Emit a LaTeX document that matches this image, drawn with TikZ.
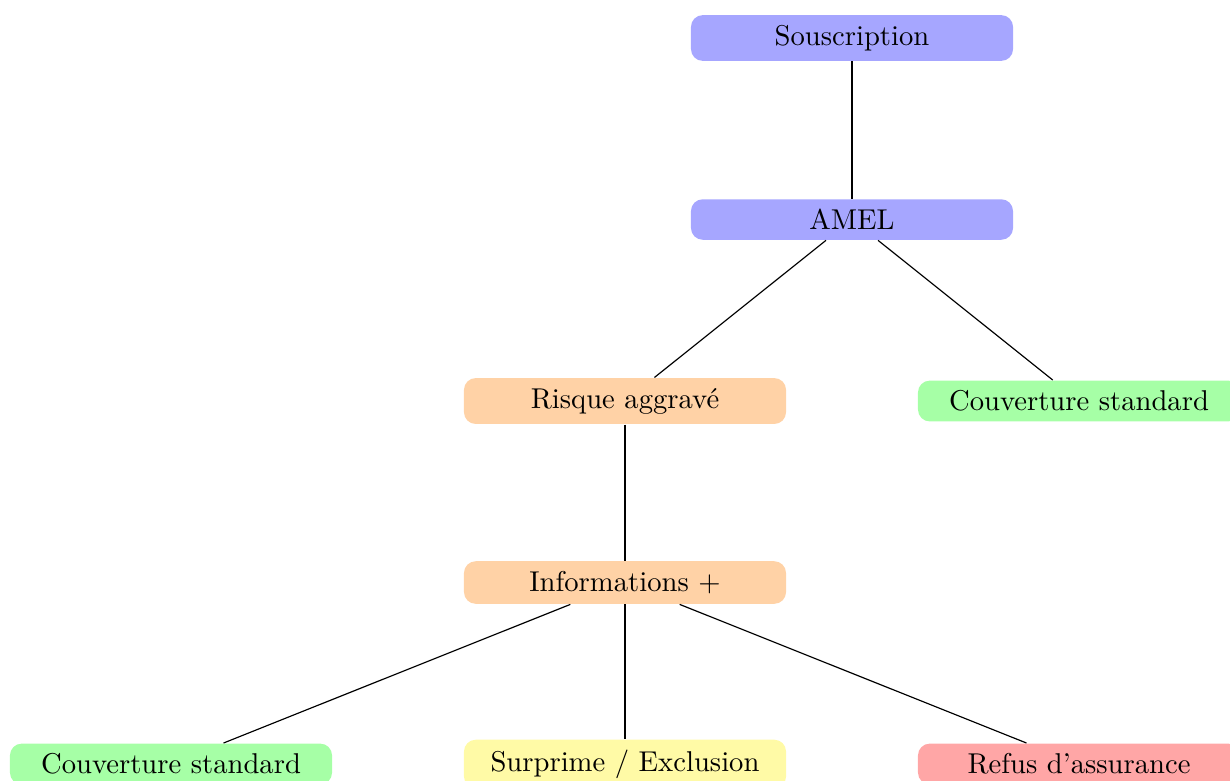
\documentclass[tikz,border=0pt]{standalone}
\usepackage{tikz}
\tikzset{
  box/.style={rounded corners=4pt, minimum width=109.5pt, inner sep=3.4pt, align=center, font=\fontsize{9.74}{12}\selectfont},
  bluebox/.style={box, fill=blue!35},
  orangebox/.style={box, fill=orange!35},
  greenbox/.style={box, fill=green!35},
  yellowbox/.style={box, fill=yellow!35},
  redbox/.style={box, fill=red!35},
  link/.style={draw=black, line width=0.4pt}
}
\begin{document}
\begin{tikzpicture}[x=0.34pt,y=-0.34pt]
\useasboundingbox (0,0) rectangle (1230,780);
\clip (0,0) rectangle (1230,780);
\node[bluebox] (sous) at (852,38) {Souscription};
\node[bluebox] (amel) at (852,219.5) {AMEL};
\node[orangebox] (risque) at (625,401) {Risque aggravé};
\node[greenbox] (couv1) at (1079,401) {Couverture standard};
\node[orangebox] (info) at (625,582.5) {Informations +};
\node[greenbox] (couv2) at (171,764) {Couverture standard};
\node[yellowbox] (surp) at (625,764) {Surprime / Exclusion};
\node[redbox] (refus) at (1079,764) {Refus d'assurance};
\draw[link] (sous) -- (amel);
\draw[link] (amel) -- (risque);
\draw[link] (amel) -- (couv1);
\draw[link] (risque) -- (info);
\draw[link] (info) -- (couv2);
\draw[link] (info) -- (surp);
\draw[link] (info) -- (refus);
\end{tikzpicture}
\end{document}
